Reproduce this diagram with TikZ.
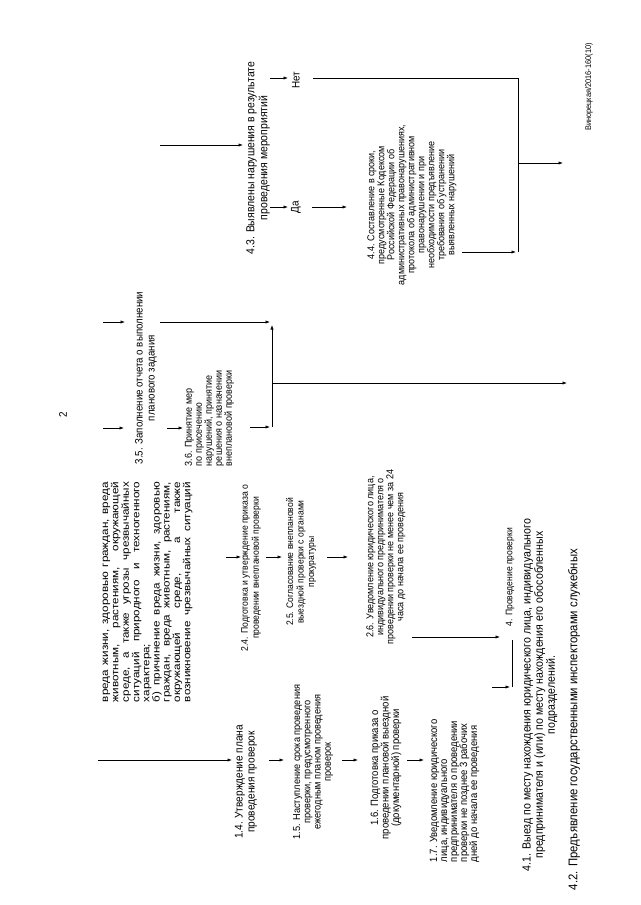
\documentclass[tikz,border=0pt]{standalone}
\usepackage{fontspec}
\setmainfont[FakeStretch=0.9]{Liberation Sans}
\usepackage{graphicx}
\usetikzlibrary{arrows.meta}
\newcommand{\fs}[2]{\fontsize{#1}{#2}\selectfont}
\newcommand{\jl}[1]{\makebox[170pt][s]{#1}}
\begin{document}
\begin{tikzpicture}[x=1pt,y=-1pt,
  rot/.style={rotate=90, inner sep=0pt, outer sep=0pt},
  arr/.style={-{Latex[length=4.5pt,width=3.2pt]}, line width=0.6pt},
  ln/.style={line width=0.6pt}]
\useasboundingbox[fill=white] (0,0) rectangle (640,905);

% page number and footer
\node[rot, font=\fs{11}{12}] (pg) at (63,415) {2};
\node[rot, font=\fs{8.2}{9}] (foot) at (589,87) {Винорецкая/2016-160(10)};

% ---------- column 1 ----------
\node[rot, align=center, font=\fs{11.2}{12}] (n14) at (246,782) {1.4. Утверждение плана\\проведения проверок};
\node[rot, align=center, font=\fs{10.2}{10.3}] (n15) at (313,762) {1.5. Наступление срока проведения\\проверки, предусмотренного\\ежегодным планом проведения\\проверок};
\node[rot, align=center, font=\fs{10.6}{10.5}] (n16) at (386,768) {1.6. Подготовка приказа о\\проведении плановой выездной\\(документарной) проверки};
\node[rot, align=left, anchor=north west, font=\fs{10.5}{10}] (n17) at (430,862) {1.7. Уведомление юридического\\лица, индивидуального\\предпринимателя о проведении\\проверки не позднее 3 рабочих\\дней до начала ее проведения};

\coordinate (a0s) at (98,760);  \coordinate (a0e) at (232,760);
\coordinate (a1s) at (269,760); \coordinate (a1e) at (284,760);
\coordinate (a2s) at (342,760); \coordinate (a2e) at (358,760);
\coordinate (a3s) at (407,760); \coordinate (a3e) at (424,760);
\draw[arr] (a0s) -- (a0e);
\draw[arr] (a1s) -- (a1e);
\draw[arr] (a2s) -- (a2e);
\draw[arr] (a3s) -- (a3e);

% ---------- column 2 ----------
\node[rot, align=left, anchor=north west, font=\fs{10}{10}] (par) at (101,702) {\scalebox{1.294}[1]{\begin{tabular}{@{}l@{}}
\jl{вреда жизни, здоровью граждан, вреда}\\
\jl{животным, растениям, окружающей}\\
\jl{среде, а также угрозы чрезвычайных}\\
\jl{ситуаций природного и техногенного}\\
характера;\\
\jl{б) причинение вреда жизни, здоровью}\\
\jl{граждан, вреда животным, растениям,}\\
\jl{окружающей среде, а также}\\
\jl{возникновение чрезвычайных ситуаций}
\end{tabular}}};

\node[rot, align=center, font=\fs{9.6}{11}] (n24) at (251,568) {2.4. Подготовка и утверждение приказа о\\проведении внеплановой проверки};
\node[rot, align=center, font=\fs{9.5}{10.5}] (n25) at (301,562) {2.5. Согласование внеплановой\\выездной проверки с органами\\прокуратуры};
\node[rot, align=center, font=\fs{10}{10}] (n26) at (386,557) {2.6. Уведомление юридического лица,\\индивидуального предпринимателя о\\проведении проверки не менее чем за 24\\часа до начала ее проведения};

\coordinate (b0s) at (226,557); \coordinate (b0e) at (241,557);
\coordinate (b1s) at (266,557); \coordinate (b1e) at (282,557);
\coordinate (b2s) at (327,557); \coordinate (b2e) at (348,557);
\coordinate (b3s) at (412,637); \coordinate (b3e) at (500,637);
\draw[arr] (b0s) -- (b0e);
\draw[arr] (b1s) -- (b1e);
\draw[arr] (b2s) -- (b2e);
\draw[arr] (b3s) -- (b3e);

% ---------- bottom: 4 ----------
\node[rot, anchor=west, font=\fs{9.5}{10}] (n4) at (510,626) {4. Проведение проверки};
\coordinate (c0s) at (492,687); \coordinate (c0e) at (510,687);
\coordinate (c1) at (512,687); \coordinate (c2) at (512,640);
\draw[arr] (c0s) -- (c0e);
\draw[ln] (c1) -- (c2);

\node[rot, align=center, font=\fs{11.8}{11}] (n41) at (540,695) {4.1. Выезд по месту нахождения юридического лица, индивидуального\\предпринимателя и (или) по месту нахождения его обособленных\\подразделений.};
\node[rot, anchor=west, font=\fs{12.6}{11}] (n42) at (574,890) {4.2. Предъявление государственными инспекторами служебных};

% ---------- column 3 ----------
\node[rot, align=center, font=\fs{10.8}{12}] (n35) at (146,378) {3.5. Заполнение отчета о выполнении\\планового задания};
\node[rot, align=left, anchor=north west, font=\fs{10}{10}] (n36) at (185,466) {3.6. Принятие мер\\по присечению\\нарушений, принятие\\решения о назначении\\внеплановой проверки};

\coordinate (d0s) at (103,322); \coordinate (d0e) at (125,322);
\coordinate (d1s) at (103,428); \coordinate (d1e) at (124,428);
\coordinate (d2s) at (167,428); \coordinate (d2e) at (183,428);
\coordinate (d3s) at (160,322); \coordinate (d3e) at (270,322);
\coordinate (d4s) at (250,427); \coordinate (d4e) at (270,427);
\coordinate (br1) at (272,427); \coordinate (br2) at (272,325);
\coordinate (d5s) at (272,383); \coordinate (d5e) at (567,383);
\draw[arr] (d0s) -- (d0e);
\draw[arr] (d1s) -- (d1e);
\draw[arr] (d2s) -- (d2e);
\draw[arr] (d3s) -- (d3e);
\draw[arr] (d4s) -- (d4e);
\draw[arr] (br1) -- (br2);
\draw[arr] (d5s) -- (d5e);

% ---------- column 4 ----------
\node[rot, align=center, font=\fs{11.6}{13}] (n43) at (258,158) {4.3. Выявлены нарушения в результате\\проведения мероприятий};
\node[rot, font=\fs{11}{12}] (da) at (296,207) {Да};
\node[rot, font=\fs{11}{12}] (net) at (296,80) {Нет};
\node[rot, align=center, font=\fs{10}{10}] (n44) at (412,205) {4.4. Составление в сроки,\\предусмотренные Кодексом\\Российской Федерации об\\административных правонарушениях,\\протокола об административном\\правонарушении и при\\необходимости предъявление\\требования об устранении\\выявленных нарушений};

\coordinate (e0s) at (160,145); \coordinate (e0e) at (243,145);
\coordinate (e1s) at (270,207); \coordinate (e1e) at (288,207);
\coordinate (e2s) at (270,78);  \coordinate (e2e) at (288,78);
\coordinate (e3s) at (312,207); \coordinate (e3e) at (347,207);
\coordinate (f0) at (313,78); \coordinate (f1) at (518,78); \coordinate (f2) at (518,252);
\coordinate (f3) at (462,252); \coordinate (f4) at (516,252);
\coordinate (f5) at (518,163); \coordinate (f6) at (563,163);
\draw[arr] (e0s) -- (e0e);
\draw[arr] (e1s) -- (e1e);
\draw[arr] (e2s) -- (e2e);
\draw[arr] (e3s) -- (e3e);
\draw[ln] (f0) -- (f1) -- (f2);
\draw[arr] (f3) -- (f4);
\draw[arr] (f5) -- (f6);
\end{tikzpicture}
\end{document}
